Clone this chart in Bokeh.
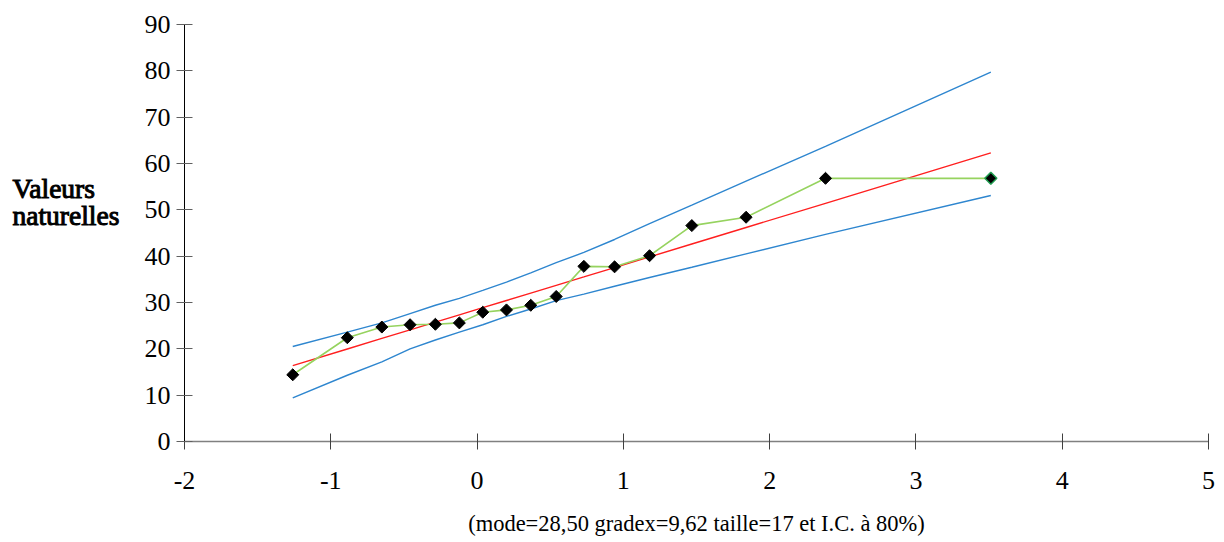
from bokeh.plotting import figure
from bokeh.models import Range1d, FixedTicker, Label
from bokeh.layouts import row
from bokeh.embed import file_html
from bokeh.resources import INLINE
import math

# Gumbel reduced variate (x) for the 17 sorted observations
u = [-1.260, -0.887, -0.651, -0.458, -0.285, -0.121, 0.039, 0.201, 0.367,
     0.541, 0.730, 0.940, 1.179, 1.468, 1.839, 2.382, 3.512]
# observed natural values (sorted)
obs = [14.4, 22.4, 24.7, 25.2, 25.3, 25.6, 27.9, 28.4, 29.4, 31.3,
       37.8, 37.7, 40.1, 46.6, 48.4, 56.8, 56.8]
# fitted Gumbel line (mode 28.50, gradex 9.62)
fit = [16.38, 19.97, 22.24, 24.10, 25.76, 27.34, 28.88, 30.43, 32.03, 33.71,
       35.52, 37.54, 39.84, 42.62, 46.19, 51.41, 62.28]
# 80% confidence interval bounds
upper = [20.5, 23.6, 25.6, 27.6, 29.4, 30.9, 32.6, 34.4, 36.4, 38.6,
         40.8, 43.6, 47.0, 51.0, 56.2, 63.7, 79.7]
lower = [9.4, 14.3, 17.2, 20.0, 21.9, 23.6, 25.2, 27.0, 28.6, 30.4,
         31.8, 33.5, 35.4, 37.6, 40.5, 44.7, 53.1]

x_ticks = [-2, -1, 0, 1, 2, 3, 4, 5]
x_tick_labels = {-2: "-2", -1: "-1"}
y_ticks = [0, 10, 20, 30, 40, 50, 60, 70, 80, 90]
x_title = "(mode=28,50 gradex=9,62 taille=17 et I.C. à 80%)"
y_title = ["Valeurs", "naturelles"]

FONT = "Liberation Serif"
LEFT_W = 130
H = 540

p = figure(width=1216 - LEFT_W, height=H, x_range=Range1d(-2, 5), y_range=Range1d(0, 90),
           output_backend="svg", toolbar_location=None,
           min_border_left=184 - LEFT_W, min_border_right=8, min_border_top=24, min_border_bottom=99)
p.outline_line_color = None
p.xgrid.visible = False
p.ygrid.visible = False
p.background_fill_color = "white"
p.border_fill_color = "white"

p.xaxis.ticker = FixedTicker(ticks=x_ticks)
p.xaxis.major_label_overrides = x_tick_labels
p.yaxis.ticker = FixedTicker(ticks=y_ticks)
p.xaxis.minor_tick_line_color = None
p.yaxis.minor_tick_line_color = None

p.xaxis.axis_line_color = "#808080"
p.xaxis.axis_line_width = 1.5
p.xaxis.major_tick_line_color = "#404040"
p.xaxis.major_tick_in = 8
p.xaxis.major_tick_out = 8
p.xaxis.major_label_standoff = 22
p.xaxis.major_label_text_font = FONT
p.xaxis.major_label_text_font_size = "26px"
p.xaxis.major_label_text_color = "black"
p.xaxis.axis_label = x_title
p.xaxis.axis_label_text_font = FONT
p.xaxis.axis_label_text_font_size = "22.5px"
p.xaxis.axis_label_text_font_style = "normal"
p.xaxis.axis_label_text_color = "black"
p.xaxis.axis_label_standoff = 19

p.yaxis.axis_line_color = "black"
p.yaxis.major_tick_line_color = "#606060"
p.yaxis.major_tick_in = 8
p.yaxis.major_tick_out = 8
p.yaxis.major_label_standoff = 6
p.yaxis.major_label_text_font = FONT
p.yaxis.major_label_text_font_size = "26px"
p.yaxis.major_label_text_color = "black"

# confidence bounds
p.line(u, upper, line_color="#2E86CF", line_width=1.4)
p.line(u, lower, line_color="#2E86CF", line_width=1.4)
# fitted line
p.line(u, fit, line_color="#FF1F1F", line_width=1.4)
# observations
p.line(u, obs, line_color="#96D35F", line_width=1.6)
p.scatter(u[:-1], obs[:-1], marker="square", size=8.5, angle=math.pi / 4,
          fill_color="black", line_color="black")
p.scatter(u[-1:], obs[-1:], marker="square", size=8.5, angle=math.pi / 4,
          fill_color="black", line_color="#1E9E50", line_width=1.5)

# narrow SVG panel on the left carrying the horizontal y-axis title
t = figure(width=LEFT_W, height=H, x_range=Range1d(0, LEFT_W), y_range=Range1d(0, H),
           output_backend="svg", toolbar_location=None,
           min_border_left=0, min_border_right=0, min_border_top=0, min_border_bottom=0)
t.axis.visible = False
t.grid.visible = False
t.outline_line_color = None
t.background_fill_color = "white"
t.border_fill_color = "white"
for line_text, baseline in zip(y_title, [213, 246.7]):
    t.add_layout(Label(x=12, y=H - baseline, text=line_text, text_font=FONT,
                       text_font_size="27.5px", text_font_style="normal",
                       text_color="black", text_outline_color="black",
                       text_align="left", text_baseline="alphabetic"))

layout = row(t, p, spacing=0)

open("out.html", "w").write(file_html(layout, INLINE))
